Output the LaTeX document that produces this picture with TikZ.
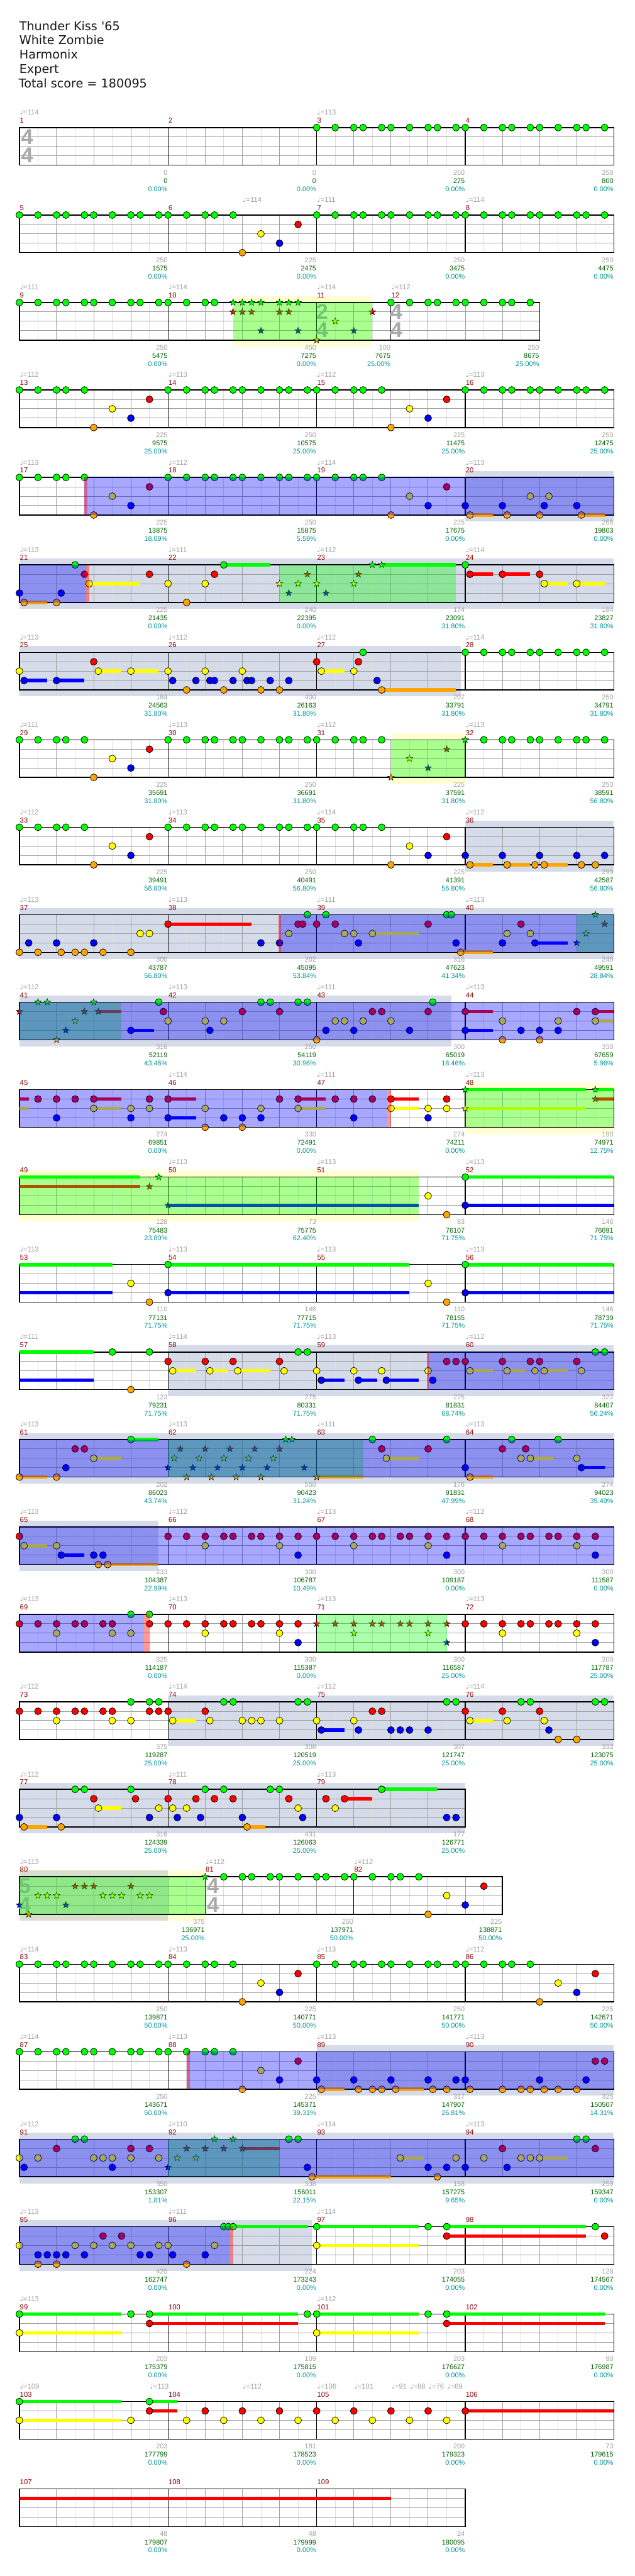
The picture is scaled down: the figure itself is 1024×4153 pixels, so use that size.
\documentclass[tikz,border=0pt]{standalone}
\usepackage{fontspec}
\setmainfont{Liberation Sans}
\newfontfamily\hdr{DejaVu Sans}
\newfontfamily\djv{DejaVu Sans}
\definecolor{ln0}{RGB}{0,255,0}
\definecolor{ln1}{RGB}{255,0,0}
\definecolor{ln2}{RGB}{255,255,0}
\definecolor{ln3}{RGB}{0,0,255}
\definecolor{ln4}{RGB}{255,165,0}
\definecolor{bandgray}{RGB}{213,219,232}
\definecolor{bandyel}{RGB}{255,255,210}
\definecolor{bandmix}{RGB}{218,222,205}
\definecolor{mred}{RGB}{145,0,0}
\definecolor{scgray}{RGB}{160,160,160}
\definecolor{scgreen}{RGB}{0,100,0}
\definecolor{sccyan}{RGB}{0,150,150}
\definecolor{lgridc}{RGB}{222,222,222}
\definecolor{dgridc}{RGB}{160,160,160}
\definecolor{tsgray}{RGB}{170,170,170}
\tikzset{
 lgl/.style={draw=lgridc,line width=0.75pt},
 dgl/.style={draw=dgridc,line width=0.75pt},
 barln/.style={draw=black,line width=0.9pt},
 stfframe/.style={draw=black,line width=1.1pt},
 notehead/.style={draw=black,line width=0.55pt},
 starhead/.style={draw=black,line width=0.4pt},
 mnum/.style={text=mred,font=\fontsize{8.6}{10}\selectfont,inner sep=0pt,anchor=base west},
 tmp/.style={text=scgray,font=\fontsize{8.6}{10}\selectfont,inner sep=0pt,anchor=base west},
 sc1/.style={text=scgray,font=\fontsize{8.3}{10}\selectfont,inner sep=0pt,anchor=base east},
 sc2/.style={text=scgreen,font=\fontsize{8.3}{10}\selectfont,inner sep=0pt,anchor=base east},
 sc3/.style={text=sccyan,font=\fontsize{8.3}{10}\selectfont,inner sep=0pt,anchor=base east},
 tsd/.style={text=tsgray,font=\fontsize{26}{26}\selectfont\bfseries,inner sep=0pt},
 hdrtxt/.style={text=black!90,font=\hdr\fontsize{14.6}{17}\selectfont,inner sep=0pt,anchor=base west},
 blueov/.style={fill=ln3,fill opacity=0.34},
 greenov/.style={fill=ln0,fill opacity=0.33},
 pinkov/.style={fill=ln1,fill opacity=0.4},
 gband/.style={fill=bandgray},
 yband/.style={fill=bandyel},
 mband/.style={fill=bandmix}
}
\newcommand\Znt[2]{\filldraw[notehead,fill=ln#1] ({(#2)*14.98},{#1*15.15}) circle (4.2pt);}
\newcommand\Zns[2]{\foreach \q in {#2}{\Znt{#1}{\q}}}
\newcommand\Zno[3]{\foreach \q in {#3}{\Znt{#1}{\q+#2}}}
\newcommand\Zst[2]{\filldraw[starhead,fill=ln#1,shift={({(#2)*14.98},{#1*15.15})}] (90:4.2pt)--(126:1.7pt)--(162:4.2pt)--(198:1.7pt)--(234:4.2pt)--(270:1.7pt)--(306:4.2pt)--(342:1.7pt)--(18:4.2pt)--(54:1.7pt)--cycle;}
\newcommand\Zss[2]{\foreach \q in {#2}{\Zst{#1}{\q}}}
\newcommand\Zsu[3]{\fill[ln#1] ({(#2)*14.98},{#1*15.15-2.8}) rectangle ({(#3)*14.98},{#1*15.15+2.8});}
\newcommand\ZPA[1]{\Zno{0}{#1}{0,2,4,5,7,8,10,12,13,15}}
\newcommand\ZPB[1]{\Zno{0}{#1}{0,2,4,5,7}\Znt{4}{#1+8}\Znt{2}{#1+10}\Znt{3}{#1+12}\Znt{1}{#1+14}}
\newcommand\ZPR[1]{\Zno{1}{#1}{0,2,4,6,7,9,10,12,14}\Zno{2}{#1}{4,12}\Znt{3}{#1+14}}
\newcommand\Zgrid[2]{%
 \pgfmathtruncatemacro\Zna{#1-2}\pgfmathtruncatemacro\Znb{#1-4}%
 \foreach \k in {2,6,...,\Zna}{\draw[lgl] ({\k*14.98},0) -- ({\k*14.98},60.6);}%
 \foreach \k in {4,8,...,\Znb}{\draw[dgl] ({\k*14.98},0) -- ({\k*14.98},60.6);}%
 \foreach \k in {1,2,3}{\draw[dgl] (0,{\k*15.15}) -- ({#1*14.98},{\k*15.15});}%
 \foreach \k in {#2}{\draw[barln] ({\k*14.98},0) -- ({\k*14.98},60.6);}%
 \draw[stfframe] (0,0) rectangle ({#1*14.98},60.6);}
\newcommand\Zgb[2]{\fill[gband] ({(#1)*14.98},-10.5) rectangle ({(#2)*14.98},71.1);}
\newcommand\Zyb[2]{\fill[yband] ({(#1)*14.98},-10.5) rectangle ({(#2)*14.98},71.1);}
\newcommand\Zbo[2]{\fill[blueov] ({(#1)*14.98},0) rectangle ({(#2)*14.98},60.6);}
\newcommand\Zgo[2]{\fill[greenov] ({(#1)*14.98},0) rectangle ({(#2)*14.98},60.6);}
\newcommand\Zpk[2]{\fill[pinkov] ({(#1)*14.98},0) rectangle ({(#2)*14.98},60.6);}
\newcounter{zl}
\newcommand\Zmeas[2]{\stepcounter{zl}\node[mnum] (z\arabic{zl}) at ({(#1)*14.98+0.6},-7.4) {#2};}
\newcommand\Ztmp[2]{\stepcounter{zl}\node[tmp] (z\arabic{zl}) at ({(#1)*14.98+0.5},-20.4) {{\djv\fontsize{8.6}{10}\selectfont ♩}=#2};}
\newcommand\Zsc[4]{\stepcounter{zl}\node[sc1] (z\arabic{zl}a) at ({(#1)*14.98-0.5},76.3) {#2};\node[sc2] (z\arabic{zl}b) at ({(#1)*14.98-0.5},89.6) {#3};\node[sc3] (z\arabic{zl}c) at ({(#1)*14.98-0.5},102.6) {#4\%};}
\newcommand\Zts[3]{\stepcounter{zl}\node[tsd] (z\arabic{zl}a) at ({(#1)*14.98+11},15.1) {#2};\node[tsd] (z\arabic{zl}b) at ({(#1)*14.98+11},44.8) {#3};}
\newcommand\ZMM[4]{\Zmeas{0}{#1}\Zmeas{16}{#2}\Zmeas{32}{#3}\Zmeas{48}{#4}}
\newcommand\ZTT[4]{\Ztmp{0}{#1}\Ztmp{16}{#2}\Ztmp{32}{#3}\Ztmp{48}{#4}}
\begin{document}
\begin{tikzpicture}[x=0.75pt,y=-0.75pt]
\useasboundingbox (0,0) rectangle (1024,4153);
\fill[white] (0,0) rectangle (1024,4153);
\node[hdrtxt] (h1) at (31,49) {Thunder Kiss '65};
\node[hdrtxt] (h2) at (31,71.7) {White Zombie};
\node[hdrtxt] (h3) at (31,94.7) {Harmonix};
\node[hdrtxt] (h4) at (31,117.7) {Expert};
\node[hdrtxt] (h5) at (30,141) {Total score = 180095};
% row 1
\begin{scope}[shift={(31.3,205.7)}]
\Zgrid{64}{16,32,48}
\Zts{0.1}{4}{4}
\ZPA{32}\ZPA{48}
\ZMM{1}{2}{3}{4}
\Ztmp{0}{114}\Ztmp{32}{113}
\Zsc{16}{0}{0}{0.00}\Zsc{32}{0}{0}{0.00}\Zsc{48}{250}{275}{0.00}\Zsc{64}{250}{800}{0.00}
\end{scope}
% row 2
\begin{scope}[shift={(31.3,346.7)}]
\Zgrid{64}{16,32,48}
\ZPA{0}\ZPB{16}\ZPA{32}\ZPA{48}
\ZMM{5}{6}{7}{8}
\Ztmp{24}{114}\Ztmp{32}{111}\Ztmp{48}{114}
\Zsc{16}{250}{1575}{0.00}\Zsc{32}{225}{2475}{0.00}\Zsc{48}{250}{3475}{0.00}\Zsc{64}{250}{4475}{0.00}
\end{scope}
% row 3
\begin{scope}[shift={(31.3,487.7)}]
\Zyb{23}{38}
\Zgrid{56}{16,32,40}
\Zts{31.85}{2}{4}\Zts{39.85}{4}{4}
\ZPA{0}\Zno{0}{16}{0,2,4,5}
\Zss{0}{23,24,25,26,28,29,30}\Zss{1}{23,24,25,28,29,38}\Zss{3}{26,30,36}\Zss{4}{32}\Zss{2}{34}
\ZPA{40}
\Zgo{23}{38}
\Zmeas{0}{9}\Zmeas{16}{10}\Zmeas{32}{11}\Zmeas{40}{12}
\Ztmp{0}{111}\Ztmp{16}{114}\Ztmp{32}{114}\Ztmp{40}{112}
\Zsc{16}{250}{5475}{0.00}\Zsc{32}{450}{7275}{0.00}\Zsc{40}{100}{7675}{25.00}\Zsc{56}{250}{8675}{25.00}
\end{scope}
% row 4
\begin{scope}[shift={(31.3,628.7)}]
\Zgrid{64}{16,32,48}
\ZPB{0}\ZPA{16}\ZPB{32}\ZPA{48}
\ZMM{13}{14}{15}{16}\ZTT{112}{113}{112}{113}
\Zsc{16}{225}{9575}{25.00}\Zsc{32}{250}{10575}{25.00}\Zsc{48}{225}{11475}{25.00}\Zsc{64}{250}{12475}{25.00}
\end{scope}
% row 5
\begin{scope}[shift={(31.3,769.7)}]
\Zgb{48}{64}
\Zgrid{64}{16,32,48}
\ZPB{0}\ZPA{16}\ZPB{32}
\Zsu{4}{48.5}{51}\Zsu{4}{60.5}{63}
\Zns{3}{48,52,56.5,60}\Zns{4}{48.5,52.5,56,60.5}\Zns{2}{55,57}
\Zbo{7}{64}\Zpk{7}{7.3}
\ZMM{17}{18}{19}{20}\ZTT{113}{112}{114}{113}
\Zsc{16}{225}{13875}{18.09}\Zsc{32}{250}{15875}{5.59}\Zsc{48}{225}{17675}{0.00}\Zsc{64}{266}{19803}{0.00}
\end{scope}
% row 6
\begin{scope}[shift={(31.3,910.7)}]
\Zgb{0}{64}
\Zgrid{64}{16,32,48}
\Zsu{4}{0.5}{3}\Zsu{2}{7.5}{13}\Zsu{0}{22}{27}\Zsu{0}{39}{47}\Zsu{1}{48.5}{51}\Zsu{1}{52}{55}\Zsu{2}{56.5}{59}\Zsu{2}{60}{63}
\Zns{3}{0,4.5}\Zns{4}{0.5,4,18}\Zns{0}{6,22,48}\Zns{1}{7,14,21,48.5,52,56}\Zns{2}{7.5,16,20,56.5,60}
\Zss{2}{28,30,32,36}\Zss{3}{29,33}\Zss{1}{31,36.5}\Zss{0}{38,39}
\Zgo{28}{47}\Zbo{0}{7.2}\Zpk{7.2}{7.5}
\ZMM{21}{22}{23}{24}\ZTT{113}{111}{112}{114}
\Zsc{16}{225}{21435}{0.00}\Zsc{32}{240}{22395}{0.00}\Zsc{48}{174}{23091}{31.80}\Zsc{64}{184}{23827}{31.80}
\end{scope}
% row 7
\begin{scope}[shift={(31.3,1051.7)}]
\Zgb{0}{47.5}
\Zgrid{64}{16,32,48}
\Zsu{3}{0.5}{3}\Zsu{3}{4}{7}\Zsu{2}{8.5}{11}\Zsu{2}{12}{15}\Zsu{2}{32.5}{35}\Zsu{4}{39}{47}
\Zns{2}{0,8.5,12,16,20,24,32.5,36}\Zns{3}{0.5,4,16.5,19,20.5,21,23,24.5,25,27,29,38.5}\Zns{1}{8,32,36.5}\Zns{4}{18,22,26,28,39}\Zns{0}{37}\ZPA{48}
\ZMM{25}{26}{27}{28}\ZTT{113}{112}{112}{114}
\Zsc{16}{184}{24563}{31.80}\Zsc{32}{400}{26163}{31.80}\Zsc{48}{207}{33791}{31.80}\Zsc{64}{250}{34791}{31.80}
\end{scope}
% row 8
\begin{scope}[shift={(31.3,1192.7)}]
\Zyb{40}{48}
\Zgrid{64}{16,32,48}
\ZPB{0}\ZPA{16}\Zno{0}{32}{0,2,4,5,7}
\Zss{4}{40}\Zss{2}{42}\Zss{3}{44}\Zss{1}{46}\Zss{0}{48}
\Zno{0}{48}{2,4,5,7,8,10,12,13,15}
\Zgo{40}{48}
\ZMM{29}{30}{31}{32}\ZTT{111}{113}{112}{113}
\Zsc{16}{225}{35691}{31.80}\Zsc{32}{250}{36691}{31.80}\Zsc{48}{225}{37591}{31.80}\Zsc{64}{250}{38591}{56.80}
\end{scope}
% row 9
\begin{scope}[shift={(31.3,1333.7)}]
\Zgb{48}{64}
\Zgrid{64}{16,32,48}
\ZPB{0}\ZPA{16}\ZPB{32}
\Zsu{4}{48.5}{51}\Zsu{4}{52.5}{55}\Zsu{4}{56.5}{59}
\Zns{3}{48,52,56,60,63}\Zns{4}{48.5,52.5,55.5,56.5,60.5,62}
\ZMM{33}{34}{35}{36}\ZTT{112}{113}{114}{112}
\Zsc{16}{225}{39491}{56.80}\Zsc{32}{250}{40491}{56.80}\Zsc{48}{225}{41391}{56.80}\Zsc{64}{299}{42587}{56.80}
\end{scope}
% row 10
\begin{scope}[shift={(31.3,1474.7)}]
\Zgb{0}{64}
\Zgrid{64}{16,32,48}
\Zsu{1}{16}{25}\Zsu{2}{38}{43}\Zsu{4}{47.5}{51}\Zsu{3}{55.5}{59}
\Zns{4}{0,2,4.5,6,7,9,12,47.5}\Zns{3}{1,4,8,26,28,36.5,47,52,55.5}\Zns{2}{13,14,29,35,36,38,52.5,55}\Zns{1}{16,30,30.5,32,34,44,54}\Zns{0}{31,33,46,46.5}
\Zss{3}{60}\Zss{2}{61}\Zss{0}{62}\Zss{1}{63}
\Zgo{60}{64}\Zbo{28}{64}\Zpk{27.9}{28.15}
\ZMM{37}{38}{39}{40}\ZTT{113}{113}{111}{113}
\Zsc{16}{300}{43787}{56.80}\Zsc{32}{202}{45095}{53.84}\Zsc{48}{316}{47623}{41.34}\Zsc{64}{246}{49591}{28.84}
\end{scope}
% row 11
\begin{scope}[shift={(31.3,1615.7)}]
\Zgb{0}{46.5}
\Zgrid{64}{16,32,48}
\Zsu{1}{8.5}{11}\Zsu{3}{12}{14.5}\Zsu{3}{48}{51}\Zsu{1}{48}{51}\Zsu{1}{62}{64}\Zsu{2}{62}{64}
\Zss{1}{0,7,8.5}\Zss{0}{2,3,8}\Zss{4}{4}\Zss{3}{5}\Zss{2}{6}
\Zns{3}{12,20.5,33,36,42,48,54,56,58}\Zns{0}{15,26,27,30,31,44.5}\Zns{1}{15.5,24,28,38,39,44,48,60,62}\Zns{2}{16,20,22,34,35,37,40,52,58,62}\Zns{4}{32,52,56}
\Zgo{0}{11}\Zbo{0}{64}
\ZMM{41}{42}{43}{44}\ZTT{112}{113}{111}{113}
\Zsc{16}{316}{52119}{43.46}\Zsc{32}{250}{54119}{30.96}\Zsc{48}{300}{65019}{18.46}\Zsc{64}{330}{67659}{5.96}
\end{scope}
% row 12
\begin{scope}[shift={(31.3,1756.7)}]
\Zyb{48}{64}
\Zgrid{64}{16,32,48}
\Zsu{1}{0}{1}\Zsu{2}{0}{1}\Zsu{1}{8}{11}\Zsu{2}{8}{11}\Zsu{1}{16}{19}\Zsu{3}{16}{19}\Zsu{1}{30}{33}\Zsu{2}{30}{33}\Zsu{1}{40}{43}\Zsu{2}{40}{43}\Zsu{0}{48}{61}\Zsu{2}{48}{61}\Zsu{0}{62}{64}\Zsu{1}{62}{64}
\Zns{1}{2,4,6,8,14,16,28,30,34,36,38,40,46}\Zns{2}{8,12,14,20,26,30,40,44,46}\Zns{3}{4,12,16,22,24,26,36,44}\Zns{4}{20,24}
\Zss{0}{48,62}\Zss{2}{48}\Zss{1}{62}
\Zgo{48}{64}\Zbo{0}{39.6}\Zpk{39.6}{40}
\ZMM{45}{46}{47}{48}\Ztmp{16}{114}\Ztmp{32}{111}\Ztmp{48}{113}
\Zsc{16}{274}{69851}{0.00}\Zsc{32}{330}{72491}{0.00}\Zsc{48}{274}{74211}{0.00}\Zsc{64}{190}{74971}{12.75}
\end{scope}
% row 13
\begin{scope}[shift={(31.3,1897.7)}]
\Zyb{0}{43}
\Zgrid{64}{16,32,48}
\Zsu{0}{0}{13}\Zsu{1}{0}{13}\Zsu{3}{16}{43}\Zsu{0}{48}{64}\Zsu{3}{48}{64}
\Zss{1}{14}\Zss{0}{15}\Zss{3}{16}
\Zns{2}{44}\Zns{4}{46}\Zns{0}{48}\Zns{3}{48}
\Zgo{0}{43}
\ZMM{49}{50}{51}{52}\Ztmp{16}{113}\Ztmp{32}{113}\Ztmp{48}{113}
\Zsc{16}{128}{75483}{23.80}\Zsc{32}{73}{75775}{62.40}\Zsc{48}{83}{76107}{71.75}\Zsc{64}{146}{76691}{71.75}
\end{scope}
% row 14
\begin{scope}[shift={(31.3,2038.7)}]
\Zgrid{64}{16,32,48}
\Zsu{0}{0}{10}\Zsu{3}{0}{10}\Zsu{0}{16}{42}\Zsu{3}{16}{42}\Zsu{0}{48}{64}\Zsu{3}{48}{64}
\Zns{2}{12,44}\Zns{4}{14,46}\Zns{0}{16,48}\Zns{3}{16,48}
\ZMM{53}{54}{55}{56}\ZTT{113}{113}{113}{113}
\Zsc{16}{110}{77131}{71.75}\Zsc{32}{146}{77715}{71.75}\Zsc{48}{110}{78155}{71.75}\Zsc{64}{146}{78739}{71.75}
\end{scope}
% row 15
\begin{scope}[shift={(31.3,2179.7)}]
\Zgb{16}{64}
\Zgrid{64}{16,32,48}
\Zsu{0}{0}{8}\Zsu{3}{0}{8}\Zsu{2}{16.5}{19}\Zsu{2}{20.5}{22.5}\Zsu{2}{23.5}{27}\Zsu{3}{32.5}{35}\Zsu{3}{36.5}{38.5}\Zsu{3}{39.5}{43}\Zsu{2}{48.5}{51}\Zsu{2}{52.5}{54.5}\Zsu{2}{56.5}{59}
\Zns{0}{10,14,30,31,62,63}\Zns{4}{12}\Zns{1}{16,20,23,28,46,47,48,52,55,56,60}\Zns{2}{16.5,20.5,23.5,28.5,32,36,39,44,48.5,52.5,55.5,56.5,60.5}\Zns{3}{32.5,36.5,39.5,44.5}
\Zbo{44}{64}\Zpk{43.9}{44.1}
\ZMM{57}{58}{59}{60}\ZTT{111}{114}{113}{112}
\Zsc{16}{123}{79231}{71.75}\Zsc{32}{275}{80331}{71.75}\Zsc{48}{275}{81831}{68.74}\Zsc{64}{322}{84407}{56.24}
\end{scope}
% row 16
\begin{scope}[shift={(31.3,2320.7)}]
\Zgb{0}{64}
\Zgrid{64}{16,32,48}
\Zsu{4}{0}{3}\Zsu{2}{8}{11}\Zsu{0}{12}{15}\Zsu{4}{32}{37}\Zsu{2}{39.5}{43}\Zsu{4}{48.5}{51}\Zsu{2}{55}{57.5}\Zsu{3}{60.5}{63}
\Zns{4}{0,4,48.5}\Zns{3}{5,48,60.5}\Zns{1}{6,7,39,44,52,54.5}\Zns{2}{8,39.5,54,55,60}\Zns{0}{12,38,46,53,58}
\Zss{3}{16,18.67,21.33,24,26.67,30.67}\Zss{2}{16.67,19.33,22,24.67,27.33}\Zss{1}{17.33,20,22.67,25.33,28}\Zss{4}{18,20.67,23.33,26,32}\Zss{0}{28.67,29.33}
\Zgo{16}{37}\Zbo{0}{64}
\ZMM{61}{62}{63}{64}\ZTT{113}{113}{111}{113}
\Zsc{16}{202}{86023}{43.74}\Zsc{32}{550}{90423}{31.24}\Zsc{48}{176}{91831}{47.99}\Zsc{64}{274}{94023}{35.49}
\end{scope}
% row 17
\begin{scope}[shift={(31.3,2461.7)}]
\Zgb{0}{15}
\Zgrid{64}{16,32,48}
\Zsu{2}{0.5}{3}\Zsu{3}{4.5}{7}\Zsu{4}{9.5}{15}
\Zns{1}{0}\Zns{2}{0.5,4}\Zns{3}{4.5,8,9}\Zns{4}{8.5,9.5}\ZPR{16}\ZPR{32}\ZPR{48}
\Zbo{0}{64}
\ZMM{65}{66}{67}{68}\ZTT{113}{112}{113}{112}
\Zsc{16}{233}{104387}{22.99}\Zsc{32}{300}{106787}{10.49}\Zsc{48}{300}{109187}{0.00}\Zsc{64}{300}{111587}{0.00}
\end{scope}
% row 18
\begin{scope}[shift={(31.3,2602.7)}]
\Zgrid{64}{16,32,48}
\Zns{1}{0,2,4,6,7,9,10,14}\Zns{2}{4,10,12}\Zns{0}{12,14}\ZPR{16}
\Zss{1}{32,34,36,38,39,41,42,44,46}\Zss{2}{36,44}\Zss{3}{46}
\ZPR{48}
\Zgo{32}{46}\Zbo{0}{13.4}\Zpk{13.4}{14}
\ZMM{69}{70}{71}{72}\ZTT{113}{113}{113}{113}
\Zsc{16}{325}{114187}{0.00}\Zsc{32}{300}{115387}{0.00}\Zsc{48}{300}{116587}{25.00}\Zsc{64}{300}{117787}{25.00}
\end{scope}
% row 19
\begin{scope}[shift={(31.3,2743.7)}]
\Zgb{16}{64}
\Zgrid{64}{16,32,48}
\Zsu{2}{16.5}{19}\Zsu{3}{32.5}{35}\Zsu{2}{48.5}{51}
\Zns{1}{0,2,4,6,7,9,10,14,15,16,20,38,39,48,52,56}\Zns{2}{4,10,12,16.5,20.5,24,25,26,28,32,36,48.5,52.5,56.5}\Zns{0}{12,14,15,22,23,30,31,46,47,54,55,62,63}\Zns{3}{32.5,36.5,40,41,42,44,57}\Zns{4}{58,60}
\ZMM{73}{74}{75}{76}\ZTT{112}{114}{112}{114}
\Zsc{16}{375}{119287}{25.00}\Zsc{32}{308}{120519}{25.00}\Zsc{48}{307}{121747}{25.00}\Zsc{64}{332}{123075}{25.00}
\end{scope}
% row 20
\begin{scope}[shift={(31.3,2884.7)}]
\Zgb{0}{48}
\Zgrid{48}{16,32}
\Zsu{4}{0.5}{3}\Zsu{2}{8.5}{11}\Zsu{4}{24.5}{26.5}\Zsu{1}{35}{38}\Zsu{0}{39}{45}
\Zns{3}{0,4,14,17,19.5,24,30.5,46,47}\Zns{4}{0.5,4.5,24.5}\Zns{0}{6,7,12,20,22,27,28,39}\Zns{1}{8,12.5,16,19,21,23,29,33,35}\Zns{2}{8.5,15,16.5,18,30,34}
\Zmeas{0}{77}\Zmeas{16}{78}\Zmeas{32}{79}\Ztmp{0}{112}\Ztmp{16}{111}\Ztmp{32}{113}
\Zsc{16}{316}{124339}{25.00}\Zsc{32}{431}{126063}{25.00}\Zsc{48}{177}{126771}{25.00}
\end{scope}
% row 21
\begin{scope}[shift={(31.3,3025.7)}]
\Zyb{0}{20}
\fill[mband] (0,-10.5) rectangle ({16*14.98},71.1);
\Zgrid{52}{20,36}
\Zts{-0.15}{5}{4}\Zts{20.1}{4}{4}
\Zss{3}{0,5}\Zss{4}{1}\Zss{2}{2,3,4,9,10,11,13,14}\Zss{1}{6,7,8,12}\Zss{0}{20}
\Zno{0}{20}{2,4,5,7,8,10,12,13,15}\ZPB{36}
\Zgo{0}{20}
\Zmeas{0}{80}\Zmeas{20}{81}\Zmeas{36}{82}\Ztmp{0}{113}\Ztmp{20}{112}\Ztmp{36}{112}
\Zsc{20}{375}{136971}{25.00}\Zsc{36}{250}{137971}{50.00}\Zsc{52}{225}{138871}{50.00}
\end{scope}
% row 22
\begin{scope}[shift={(31.3,3166.7)}]
\Zgrid{64}{16,32,48}
\ZPA{0}\ZPB{16}\ZPA{32}\ZPB{48}
\ZMM{83}{84}{85}{86}\ZTT{114}{113}{113}{112}
\Zsc{16}{250}{139871}{50.00}\Zsc{32}{225}{140771}{50.00}\Zsc{48}{250}{141771}{50.00}\Zsc{64}{225}{142671}{50.00}
\end{scope}
% row 23
\begin{scope}[shift={(31.3,3307.7)}]
\Zgb{32}{64}
\Zgrid{64}{16,32,48}
\ZPA{0}\ZPB{16}
\Zsu{4}{32.5}{35}\Zsu{4}{40.5}{43.5}
\Zns{3}{32,36,40,44,47,48,56,61}\Zns{4}{32.5,36.5,38,39,40.5,44.5,46,48.5,52,54,55,56.5,58,60}\Zns{1}{62,63}
\Zbo{18}{64}\Zpk{18}{18.35}
\ZMM{87}{88}{89}{90}\ZTT{114}{113}{113}{113}
\Zsc{16}{250}{143671}{50.00}\Zsc{32}{225}{145371}{39.31}\Zsc{48}{317}{147907}{26.81}\Zsc{64}{325}{150507}{14.31}
\end{scope}
% row 24
\begin{scope}[shift={(31.3,3448.7)}]
\Zgb{0}{64}
\Zgrid{64}{16,32,48}
\Zsu{1}{24}{28}\Zsu{4}{31.5}{40}\Zsu{2}{41}{43.5}\Zsu{2}{56}{59}
\Zns{2}{0,2,8,9,10,12,15,41,47,50,54,55,56}\Zns{3}{0.5,10,31,44,46,48,52.5}\Zns{1}{4,12,14,52,62}\Zns{0}{6,7,29,30,60,61}\Zns{4}{31.5,45}
\Zss{3}{16}\Zss{2}{17,19}\Zss{1}{18,20,22,24}\Zss{0}{21,23}
\Zgo{16}{28}\Zbo{0}{64}
\ZMM{91}{92}{93}{94}\ZTT{112}{110}{114}{113}
\Zsc{16}{350}{153307}{1.81}\Zsc{32}{338}{156011}{22.15}\Zsc{48}{158}{157275}{9.65}\Zsc{64}{259}{159347}{0.00}
\end{scope}
% row 25
\begin{scope}[shift={(31.3,3589.7)}]
\Zgb{0}{31.5}
\Zgrid{64}{16,32,48}
\Zsu{0}{23}{31}\Zsu{0}{32}{43}\Zsu{2}{32}{43}\Zsu{0}{46}{61}\Zsu{1}{46}{61}
\Zns{2}{0,6,8,10,12,15,16,21,32}\Zns{3}{2,3,4,5,7,13,14,16.5,20}\Zns{4}{2,4,18}\Zns{1}{9,11,46,63}\Zns{0}{22,22.5,23,32,44,46,62}
\Zbo{0}{22.6}\Zpk{22.6}{23}
\ZMM{95}{96}{97}{98}\Ztmp{0}{113}\Ztmp{16}{111}\Ztmp{32}{114}
\Zsc{16}{425}{162747}{0.00}\Zsc{32}{224}{173243}{0.00}\Zsc{48}{203}{174055}{0.00}\Zsc{64}{128}{174567}{0.00}
\end{scope}
% row 26
\begin{scope}[shift={(31.3,3730.7)}]
\Zgrid{64}{16,32,48}
\Zsu{0}{0}{11}\Zsu{2}{0}{11}\Zsu{0}{14}{30}\Zsu{1}{14}{30}\Zsu{0}{32}{43}\Zsu{2}{32}{43}\Zsu{0}{46}{63}\Zsu{1}{46}{63}
\Zns{0}{0,12,14,31,32,44,46}\Zns{2}{0,32}\Zns{1}{14,46}
\ZMM{99}{100}{101}{102}\Ztmp{0}{113}\Ztmp{32}{112}
\Zsc{16}{203}{175379}{0.00}\Zsc{32}{109}{175815}{0.00}\Zsc{48}{203}{176627}{0.00}\Zsc{64}{90}{176987}{0.00}
\end{scope}
% row 27
\begin{scope}[shift={(31.3,3871.7)}]
\Zgrid{64}{16,32,48}
\Zsu{0}{0}{11}\Zsu{2}{0}{11}\Zsu{0}{14}{17}\Zsu{1}{14}{17}\Zsu{1}{48}{64}
\Zns{0}{0,14}\Zns{2}{0,12,18,22,26,30,34,38,42,46}\Zns{1}{14,20,24,28,32,36,40,44,48}
\ZMM{103}{104}{105}{106}
\Ztmp{0}{109}\Ztmp{14}{113}\Ztmp{24}{112}\Ztmp{32}{106}\Ztmp{36}{101}\Ztmp{40}{91}\Ztmp{42}{88}\Ztmp{44}{76}\Ztmp{46}{69}
\Zsc{16}{203}{177799}{0.00}\Zsc{32}{181}{178523}{0.00}\Zsc{48}{200}{179323}{0.00}\Zsc{64}{73}{179615}{0.00}
\end{scope}
% row 28
\begin{scope}[shift={(31.3,4012.7)}]
\Zgrid{48}{16,32}
\Zsu{1}{0}{40}
\Zmeas{0}{107}\Zmeas{16}{108}\Zmeas{32}{109}
\Zsc{16}{48}{179807}{0.00}\Zsc{32}{48}{179999}{0.00}\Zsc{48}{24}{180095}{0.00}
\end{scope}
\end{tikzpicture}
\end{document}
